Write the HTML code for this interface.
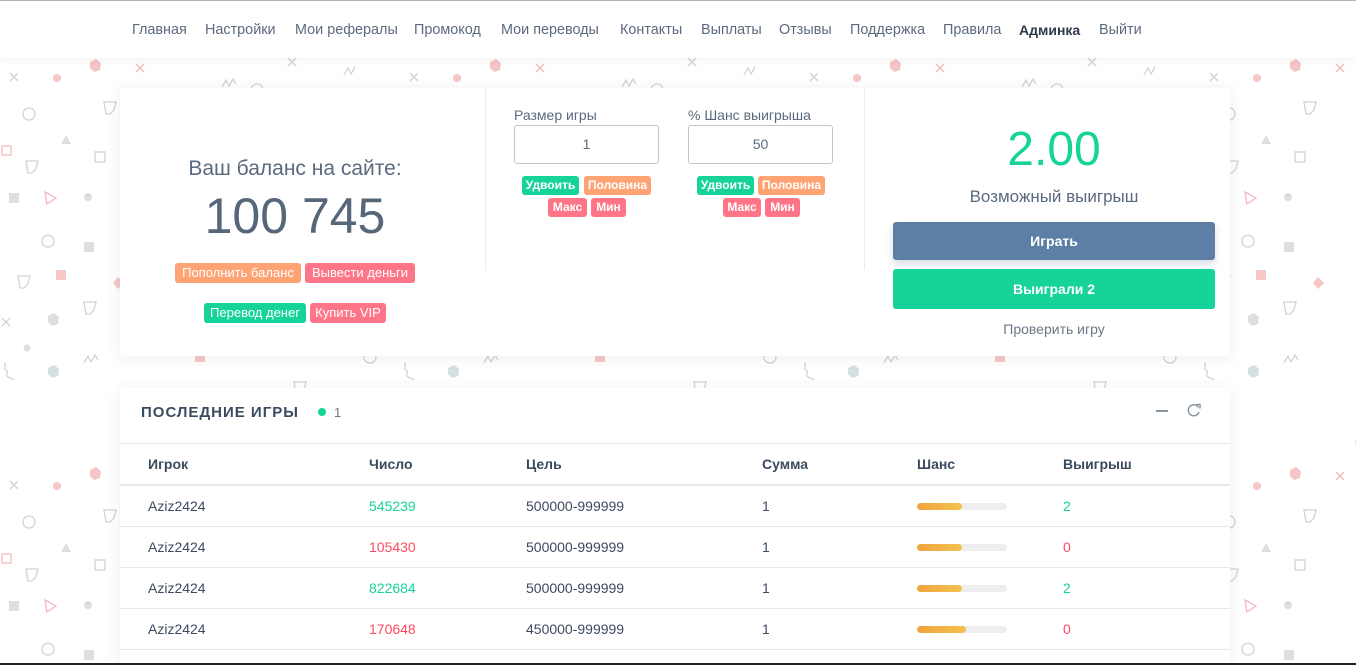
<!DOCTYPE html>
<html><head><meta charset="utf-8">
<style>
*{margin:0;padding:0;box-sizing:border-box}
html,body{width:1356px;height:665px;overflow:hidden;background:#fff;font-family:"Liberation Sans",sans-serif;color:#5a6a7e}
.abs{position:absolute}
#bg{position:absolute;left:0;top:0}
.nav{position:absolute;left:0;top:1px;width:1356px;height:57px;background:#fff;box-shadow:0 3px 8px rgba(0,0,0,0.05);}
.nav span{position:absolute;top:19px;font-size:14.4px;line-height:20px;color:#5b6a7d;white-space:nowrap}
.card{position:absolute;background:#fff;border-radius:4px;box-shadow:0 2px 16px rgba(60,70,90,0.09)}
.btn{position:absolute;color:#fff;text-align:center;border-radius:3px;white-space:nowrap}
.sb{height:19px;line-height:19px;font-size:12px;font-weight:bold}
.lb{height:20px;line-height:20px;font-size:13px}
.g{background:#16d39a}.o{background:#fea373}.r{background:#ff7588}
.inp{position:absolute;width:145px;height:39px;border:1px solid #bfc6cd;border-radius:3px;text-align:center;line-height:37px;font-size:14px;color:#5a6a7e}
.lbl{position:absolute;font-size:14px;line-height:18px;color:#5a6a7e}
.th{position:absolute;top:455px;font-size:14px;line-height:18px;font-weight:bold;color:#3b4a5e}
.td{position:absolute;font-size:14px;line-height:18px;color:#3b4a5e}
.hl{position:absolute;left:120px;width:1110px;height:1px;background:#e4e9ee}
.bar{position:absolute;left:917px;width:90px;height:7px;border-radius:4px;background:#eeeeee;overflow:hidden}
.bar i{position:absolute;left:0;top:0;height:7px;border-radius:4px;background:linear-gradient(90deg,#f0a33f,#f4c24f)}
.gr{color:#16d39a}.rd{color:#ff4961}
</style></head><body>
<svg id="bg" width="1356" height="665" xmlns="http://www.w3.org/2000/svg">
<defs>
<pattern id="p" patternUnits="userSpaceOnUse" x="0" y="57" width="400" height="408">
<g fill="none" stroke="#cfd4d4" stroke-width="1.3">
<path d="M10 16l8 8M18 16l-8 8"/>
<path d="M222 30l4-7 3 6 4-7 3 5"/>
<circle cx="257" cy="33" r="6"/>
<path d="M288 1l8 8M296 1l-8 8"/>
<path d="M344 18l4-7 3 6 4-7"/>
<circle cx="29" cy="57" r="6"/>
<path d="M104 45h12l-2 8-4 4h-4z"/>
<rect x="95" y="95" width="10" height="10"/>
<path d="M26 104h12l-2 8-4 4h-4z"/>
<circle cx="48" cy="184" r="6"/>
<path d="M18 219h12l-2 8-4 4h-4z"/>
<path d="M84 245h12l-2 8-4 4h-4z"/>
<path d="M2 261l8 8M10 261l-8 8"/>
<path d="M84 306l4-7 3 6 4-7 3 5"/>
<path d="M4 306c4 2-2 5 2 7s-2 5 2 7 4 1 6 3"/>
<path d="M244 115h12l-2 8-4 4h-4z"/>
<path d="M156 64c4 2-2 5 2 7s-2 5 2 7 4 1 6 3"/>
<path d="M376 156l8 8M384 156l-8 8"/>
<circle cx="180" cy="250" r="6"/>
<circle cx="370" cy="300" r="6"/>
<path d="M294 325h12l-2 8-4 4h-4z"/>
<path d="M224 374l4-7 3 6 4-7 3 5"/>
<rect x="300" y="70" width="10" height="10"/>
</g>
<g fill="none" stroke="#f3b9bd" stroke-width="1.3">
<path d="M136 7l8 8M144 7l-8 8"/>
<rect x="2" y="89" width="9" height="9"/>
<path d="M45 135l11 6-9 6z"/>
<path d="M326 144l11 6-9 6z"/>
<path d="M156 384l11 6-9 6z"/>
</g>
<g fill="#f6c6c6">
<circle cx="57" cy="21" r="4"/>
<path d="M90 5l6-3 5 4-1 7-6 2-4-4z"/>
<rect x="56" y="213" width="10" height="10"/>
<path d="M118 220l6 6-6 6-5-6z"/>
<rect x="195" y="295" width="10" height="10"/>
<path d="M245 286l6-3 5 4-1 7-6 2-4-4z"/>
<circle cx="200" cy="40" r="3.5"/>
</g>
<g fill="#dcdfde">
<path d="M66 78l5 9h-10z"/>
<rect x="9" y="136" width="10" height="10"/>
<circle cx="88" cy="140" r="4"/>
<rect x="84" y="185" width="10" height="10"/>
<path d="M48 259l6-3 5 4-1 7-6 2-4-4z"/>
<circle cx="27" cy="291" r="3.5"/>
<path d="M48 311l6-3 5 4-1 7-6 2-4-4z" fill="#d4e0e0"/>
<path d="M200 145l5 9h-10z"/>
<circle cx="300" cy="200" r="4"/>
<rect x="325" y="245" width="10" height="10"/>
<path d="M376 236l6-3 5 4-1 7-6 2-4-4z"/>
<path d="M156 336l6-3 5 4-1 7-6 2-4-4z"/>
<path d="M376 376l6-3 5 4-1 7-6 2-4-4z" fill="#d4e0e0"/>
<circle cx="170" cy="110" r="3.5"/>
</g>
</pattern>
</defs>
<rect x="0" y="58" width="1356" height="607" fill="url(#p)"/>
</svg>

<div class="abs" style="left:0;top:0;width:1356px;height:1px;background:#b5b5b5"></div>
<div class="nav">
<span style="left:132px">Главная</span>
<span style="left:205px">Настройки</span>
<span style="left:295px">Мои рефералы</span>
<span style="left:414px">Промокод</span>
<span style="left:501px">Мои переводы</span>
<span style="left:620px">Контакты</span>
<span style="left:701px">Выплаты</span>
<span style="left:779px">Отзывы</span>
<span style="left:850px">Поддержка</span>
<span style="left:943px">Правила</span>
<span style="left:1019px;color:#2e3a4b;font-weight:bold;font-size:14px">Админка</span>
<span style="left:1099px">Выйти</span>
</div>

<div class="card" style="left:120px;top:88px;width:1110px;height:268px"></div>
<div class="abs" style="left:485px;top:88px;width:1px;height:182px;background:#e8ebef"></div>
<div class="abs" style="left:864px;top:88px;width:1px;height:182px;background:#e8ebef"></div>

<!-- left column -->
<div class="abs" style="left:120px;top:155px;width:350px;text-align:center;font-size:21px;line-height:28px;color:#5a6a7e">Ваш баланс на сайте:</div>
<div class="abs" style="left:120px;top:186px;width:350px;text-align:center;font-size:50px;line-height:60px;color:#56677a">100 745</div>
<div class="btn lb o" style="left:175px;top:263px;width:126px">Пополнить баланс</div>
<div class="btn lb r" style="left:305px;top:263px;width:110px">Вывести деньги</div>
<div class="btn lb g" style="left:204px;top:303px;width:102px">Перевод денег</div>
<div class="btn lb r" style="left:310px;top:303px;width:76px">Купить VIP</div>

<!-- middle column -->
<div class="lbl" style="left:514px;top:106px">Размер игры</div>
<div class="inp" style="left:514px;top:125px">1</div>
<div class="lbl" style="left:688px;top:106px">% Шанс выигрыша</div>
<div class="inp" style="left:688px;top:125px">50</div>
<div class="btn sb g" style="left:522px;top:176px;width:57px">Удвоить</div>
<div class="btn sb o" style="left:584px;top:176px;width:67px">Половина</div>
<div class="btn sb r" style="left:548px;top:198px;width:39px">Макс</div>
<div class="btn sb r" style="left:591px;top:198px;width:35px">Мин</div>
<div class="btn sb g" style="left:697px;top:176px;width:57px">Удвоить</div>
<div class="btn sb o" style="left:758px;top:176px;width:67px">Половина</div>
<div class="btn sb r" style="left:723px;top:198px;width:38px">Макс</div>
<div class="btn sb r" style="left:765px;top:198px;width:35px">Мин</div>

<!-- right column -->
<div class="abs" style="left:893px;top:122px;width:322px;text-align:center;font-size:48px;line-height:56px;color:#16d39a">2.00</div>
<div class="abs" style="left:893px;top:186px;width:322px;text-align:center;font-size:17px;line-height:22px;color:#5a6a7e">Возможный выигрыш</div>
<div class="btn" style="left:893px;top:222px;width:322px;height:38px;line-height:38px;background:#5d7fa5;font-size:14px;font-weight:bold;box-shadow:0 4px 8px rgba(60,80,110,0.2)">Играть</div>
<div class="btn" style="left:893px;top:269px;width:322px;height:40px;line-height:40px;background:#16d39a;font-size:14px;font-weight:bold">Выиграли 2</div>
<div class="abs" style="left:893px;top:320px;width:322px;text-align:center;font-size:14px;line-height:18px;color:#6b7787">Проверить игру</div>

<!-- table card -->
<div class="card" style="left:120px;top:388px;width:1110px;height:275px;border-radius:4px 4px 0 0"></div>
<div class="abs" style="left:141px;top:403px;font-size:15px;line-height:20px;font-weight:bold;letter-spacing:1px;color:#3b4b5f">ПОСЛЕДНИЕ ИГРЫ</div>
<div class="abs" style="left:318px;top:408px;width:8px;height:8px;border-radius:50%;background:#16d39a"></div>
<div class="abs" style="left:334px;top:404px;font-size:13px;line-height:17px;color:#6b7785">1</div>
<div class="abs" style="left:1156px;top:410px;width:12px;height:1.5px;background:#8a96a3"></div>
<svg class="abs" style="left:1186px;top:402px" width="16" height="16" viewBox="0 0 16 16"><path d="M12.5 5.5A5.5 5.5 0 1 0 13 10" fill="none" stroke="#7f8b98" stroke-width="1.3"/><path d="M10 2.5h4v4" fill="none" stroke="#7f8b98" stroke-width="1.3"/></svg>

<div class="hl" style="top:443px"></div>
<div class="th" style="left:148px">Игрок</div>
<div class="th" style="left:369px">Число</div>
<div class="th" style="left:526px">Цель</div>
<div class="th" style="left:762px">Сумма</div>
<div class="th" style="left:917px">Шанс</div>
<div class="th" style="left:1063px">Выигрыш</div>
<div class="hl" style="top:484px;height:2px"></div>

<div class="td" style="left:148px;top:497px">Aziz2424</div>
<div class="td gr" style="left:369px;top:497px">545239</div>
<div class="td" style="left:526px;top:497px">500000-999999</div>
<div class="td" style="left:762px;top:497px">1</div>
<div class="bar" style="top:503px"><i style="width:45px"></i></div>
<div class="td gr" style="left:1063px;top:497px">2</div>
<div class="hl" style="top:526px"></div>

<div class="td" style="left:148px;top:538px">Aziz2424</div>
<div class="td rd" style="left:369px;top:538px">105430</div>
<div class="td" style="left:526px;top:538px">500000-999999</div>
<div class="td" style="left:762px;top:538px">1</div>
<div class="bar" style="top:544px"><i style="width:45px"></i></div>
<div class="td rd" style="left:1063px;top:538px">0</div>
<div class="hl" style="top:567px"></div>

<div class="td" style="left:148px;top:579px">Aziz2424</div>
<div class="td gr" style="left:369px;top:579px">822684</div>
<div class="td" style="left:526px;top:579px">500000-999999</div>
<div class="td" style="left:762px;top:579px">1</div>
<div class="bar" style="top:585px"><i style="width:45px"></i></div>
<div class="td gr" style="left:1063px;top:579px">2</div>
<div class="hl" style="top:608px"></div>

<div class="td" style="left:148px;top:620px">Aziz2424</div>
<div class="td rd" style="left:369px;top:620px">170648</div>
<div class="td" style="left:526px;top:620px">450000-999999</div>
<div class="td" style="left:762px;top:620px">1</div>
<div class="bar" style="top:626px"><i style="width:49px"></i></div>
<div class="td rd" style="left:1063px;top:620px">0</div>
<div class="hl" style="top:649px"></div>

<div class="abs" style="left:0;top:663px;width:1356px;height:2px;background:#1f2328"></div>
</body></html>
